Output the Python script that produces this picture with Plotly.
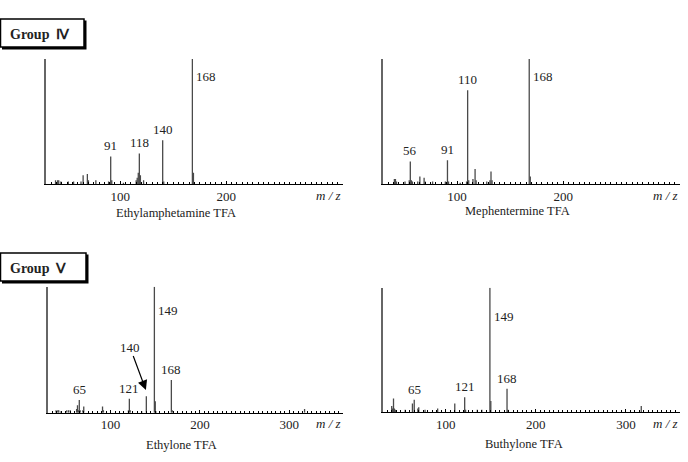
import plotly.graph_objects as go

W, H = 688, 462

# ---------------- data (m/z, relative intensity %) ----------------
eth_amph_mz = [39, 41, 42, 44, 51, 56, 63, 65, 69, 70, 77, 89, 91, 92, 103, 115, 116, 117, 118, 119, 122, 140, 141, 168, 169]
eth_amph_in = [3, 3, 3, 2, 2, 2, 2, 7, 8, 3, 3, 2, 22, 3, 1, 3, 5, 9, 24.5, 7, 3, 35, 2, 100, 9]

meph_mz = [41, 42, 43, 51, 55, 56, 57, 58, 63, 65, 69, 70, 77, 89, 91, 92, 103, 109, 110, 111, 115, 117, 118, 128, 131, 132, 133, 168, 169]
meph_in = [4, 4, 2, 2, 3, 18, 3, 2, 2, 6, 5, 2, 2, 2, 19, 2, 1, 2, 75, 3, 4, 12, 3, 2, 3, 10, 3, 100, 6]

ethylone_mz = [39, 41, 42, 44, 51, 53, 55, 62, 63, 64, 65, 66, 69, 70, 91, 92, 120, 121, 122, 135, 140, 149, 150, 151, 168, 169, 317]
ethylone_in = [2, 2, 2, 1, 2, 2, 2, 3, 6, 2, 10, 2, 2, 5, 5, 2, 2, 11, 2, 1, 13, 100, 9, 1, 26, 2, 3]

buthylone_mz = [40, 41, 42, 43, 44, 55, 63, 65, 69, 70, 77, 91, 110, 121, 122, 135, 140, 149, 150, 168, 169, 317]
buthylone_in = [5, 3, 11, 3, 2, 2, 7, 10, 3, 4, 2, 3, 7, 12, 2, 2, 2, 100, 9, 19, 2, 5]

names = ["Ethylamphetamine TFA", "Mephentermine TFA", "Ethylone TFA", "Buthylone TFA"]
top_ticks = [100, 200]
bottom_ticks = [100, 200, 300]

# labelled peaks: (m/z, mode) ; mode 'top' = above, 'side' = right of line
labels = [
    [(91, "top"), (118, "top"), (140, "top"), (168, "side")],
    [(56, "top"), (91, "top"), (110, "top"), (168, "side")],
    [(65, "top"), (121, "top"), (149, "side"), (168, "top")],
    [(65, "top"), (121, "top"), (149, "side"), (168, "top")],
]

def px(x):
    return x / W

def py(y):
    return 1 - y / H

# panel geometry in pixels: (x0, x1, y_baseline, y_top, xrange, ticks, name_x, name_y)
panels = [
    (46, 343, 184, 59, [30, 310], top_ticks, 176, 213),
    (382.7, 680, 184, 59, [30, 310], top_ticks, 517, 211),
    (48, 343, 412.7, 286.7, [30, 360], bottom_ticks, 181.5, 445),
    (382.7, 680, 412.3, 287.7, [30, 360], bottom_ticks, 523.7, 444),
]
spectra = [(eth_amph_mz, eth_amph_in), (meph_mz, meph_in),
           (ethylone_mz, ethylone_in), (buthylone_mz, buthylone_in)]

fig = go.Figure()
layout = dict(width=W, height=H, margin=dict(l=0, r=0, t=0, b=0),
              paper_bgcolor="white", plot_bgcolor="white", showlegend=False)
annotations = []
shapes = []
serif = "Liberation Serif, Times New Roman, serif"
line_col = "#4a4a4a"

for i, ((x0, x1, yb, yt, xr, ticks, nx, ny), (mz, inten)) in enumerate(zip(panels, spectra)):
    n = "" if i == 0 else str(i + 1)
    xs, ys = [], []
    for m, h in zip(mz, inten):
        xs += [m, m, None]
        ys += [0, h, None]
    fig.add_trace(go.Scatter(x=xs, y=ys, mode="lines", line=dict(color=line_col, width=1.3),
                             xaxis="x" + n, yaxis="y" + n, hoverinfo="skip"))
    layout["xaxis" + n] = dict(domain=[px(x0), px(x1)], range=xr, anchor="y" + n,
                               showgrid=False, zeroline=False, showline=True, linecolor="black",
                               linewidth=1, ticks="inside", ticklen=3, tickcolor="black",
                               tickvals=ticks, tickfont=dict(family=serif, size=13, color="#222"),
                               minor=dict(ticks="inside", ticklen=2, dtick=5, tick0=0,
                                          tickcolor="black", showgrid=False))
    layout["yaxis" + n] = dict(domain=[py(yb), py(yt)], range=[0, 100], anchor="x" + n,
                               showgrid=False, zeroline=False, showline=True,
                               linecolor="#666", linewidth=1.5, showticklabels=False, ticks="")
    # peak labels
    lab_map = dict(zip(mz, inten))
    for m, mode in labels[i]:
        h = lab_map[m]
        if mode == "top":
            annotations.append(dict(x=m, y=h, xref="x" + n, yref="y" + n, text=str(m),
                                    showarrow=False, yanchor="bottom", xanchor="center", yshift=1,
                                    font=dict(family=serif, size=13, color="#222")))
        else:
            ylab = 86 if i < 2 else (81 if i == 2 else 77)
            annotations.append(dict(x=m, y=ylab, xref="x" + n, yref="y" + n, text=str(m),
                                    showarrow=False, yanchor="middle", xanchor="left", xshift=2,
                                    font=dict(family=serif, size=13, color="#222")))
    # m / z
    annotations.append(dict(x=px(x1 - 15), y=py(yb + 11), xref="paper", yref="paper",
                            text="<i>m / z</i>", showarrow=False, xanchor="center", yanchor="middle",
                            font=dict(family=serif, size=13, color="#222")))
    # compound name
    annotations.append(dict(x=px(nx), y=py(ny), xref="paper", yref="paper",
                            text=names[i], showarrow=False, xanchor="center", yanchor="middle",
                            font=dict(family=serif, size=12.5, color="#222")))

# arrow to m/z 140 in Ethylone panel
annotations.append(dict(x=139.5, y=18, xref="x3", yref="y3", text="140", showarrow=True,
                        ax=-16, ay=-43, arrowhead=2, arrowsize=1.6, arrowwidth=1.2,
                        arrowcolor="black", font=dict(family=serif, size=13, color="#222")))

# group boxes
for (bx0, by0, bx1, by1, label) in [(0.5, 19, 84, 47, "Group\u00a0\u00a0Ⅳ"),
                                     (0.5, 253, 86, 281, "Group\u00a0\u00a0Ⅴ")]:
    shapes.append(dict(type="rect", xref="paper", yref="paper",
                       x0=px(bx0 + 1.5), x1=px(bx1 + 2.5), y0=py(by1 + 2.5), y1=py(by0 + 1.5),
                       fillcolor="black", line=dict(width=0)))
    shapes.append(dict(type="rect", xref="paper", yref="paper",
                       x0=px(bx0), x1=px(bx1), y0=py(by1), y1=py(by0),
                       fillcolor="white", line=dict(color="black", width=1.5)))
    annotations.append(dict(x=px(8), y=py((by0 + by1) / 2 + 1), xref="paper", yref="paper",
                            text="<b>" + label + "</b>", showarrow=False, xanchor="left",
                            yanchor="middle", font=dict(family=serif, size=14, color="#222")))

layout["annotations"] = annotations
layout["shapes"] = shapes
fig.update_layout(**layout)
fig.write_html("out.html")
